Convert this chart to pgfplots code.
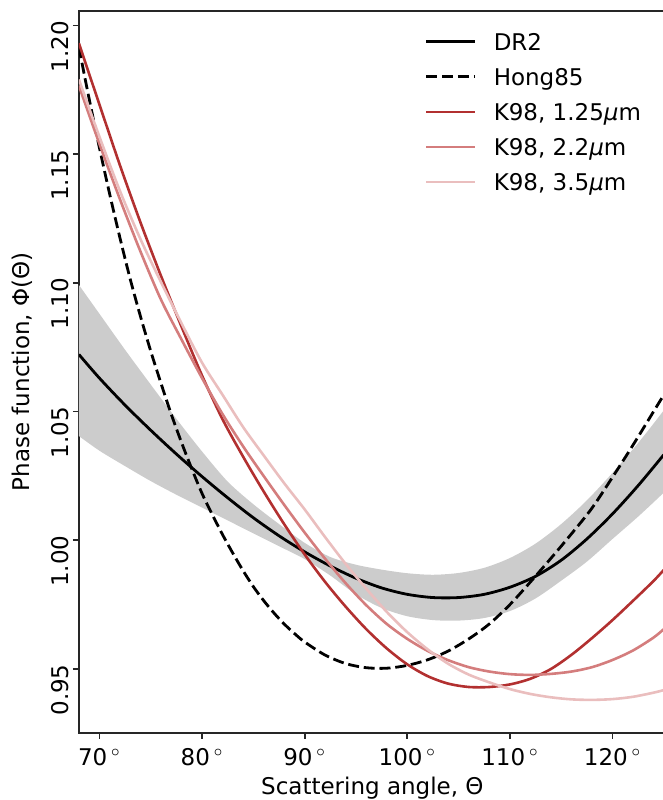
\documentclass[border=0pt]{standalone}
\usepackage{fontspec}
\setmainfont{DejaVu Sans}
\usepackage{pgfplots}
\pgfplotsset{compat=1.18}
\definecolor{kdark}{RGB}{178,48,48}
\definecolor{kmed}{RGB}{212,125,125}
\definecolor{klight}{RGB}{234,190,190}
\definecolor{bandc}{RGB}{204,204,204}
\definecolor{spine}{RGB}{38,38,38}
\begin{document}
\fontsize{11.5pt}{13.8pt}\selectfont
\begin{tikzpicture}
\begin{axis}[
  at={(39.44pt,33.65pt)}, anchor=south west,
  scale only axis, width=293.5pt, height=360.85pt,
  xmin=68, xmax=125.2, ymin=0.92525, ymax=1.2056,
  axis line style={spine, line width=0.9pt},
  tick style={spine, line width=0.9pt},
  tick align=outside, major tick length=3pt,
  tick pos=left,
  xtick={70,80,90,100,110,120},
  xticklabels={70\,$^\circ$,80\,$^\circ$,90\,$^\circ$,100\,$^\circ$,110\,$^\circ$,120\,$^\circ$},
  ytick={0.95,1.00,1.05,1.10,1.15,1.20},
  yticklabels={0.95,1.00,1.05,1.10,1.15,1.20},
  minor tick num=0,
  xticklabel style={inner sep=0pt, anchor=north, yshift=-4.5pt},
  yticklabel style={rotate=90, anchor=south east, inner sep=0pt, xshift=2.5pt, yshift=2pt},
  xlabel={Scattering angle, Θ},
  ylabel={Phase function, Φ(Θ)},
  xlabel style={at={(rel axis cs:0.5,-0.0614)}, anchor=north, inner sep=0pt},
  ylabel style={at={(rel axis cs:-0.079,0.5)}, anchor=south, inner sep=0pt},
  legend style={draw=none, fill=none, at={(0.5896,0.9692)}, anchor=north west,
    inner sep=0pt, outer sep=0pt, row sep=6.6pt, column sep=8.5pt,
    cells={anchor=base west},
    nodes={inner sep=0pt, text height=8.4pt, text depth=2.5pt}},
  legend image code/.code={\draw[#1] (0pt,4.1pt) -- (24.5pt,4.1pt);},
  every axis plot/.append style={line width=1.3pt},
]
\addplot[fill=bandc, draw=none, forget plot, smooth] coordinates {
(68,1.0992)(70,1.0880)(72.5,1.0740)(75,1.0605)(77.5,1.0472)(80,1.0345)(82.5,1.0228)(85,1.0140)(87.5,1.0063)(90,0.9990)(92.5,0.9935)(95,0.9905)(97.5,0.9886)(100,0.9872)(102.5,0.9866)(105,0.9873)(107.5,0.9893)(110,0.9931)(112.5,0.9987)(115,1.0063)(117.5,1.0155)(120,1.0262)(122.5,1.0378)(125,1.0505)(127.5,1.0640)
(127.5,1.0280)(125,1.0185)(122.5,1.0092)(120,1.0005)(117.5,0.9917)(115,0.9843)(112.5,0.9774)(110,0.9725)(107.5,0.9698)(105,0.9688)(102.5,0.9690)(100,0.9705)(97.5,0.9737)(95,0.9790)(92.5,0.9863)(90,0.9927)(87.5,0.9977)(85,1.0027)(82.5,1.0077)(80,1.0127)(77.5,1.0177)(75,1.0230)(72.5,1.0288)(70,1.0348)(68,1.0405)} -- cycle;

\addplot[black, smooth, line width=1.4pt] coordinates {
(68,1.0722)(70,1.0630)(72.5,1.0525)(75,1.04275)(77.5,1.0335)(80,1.02475)(82.5,1.0165)(85,1.00875)(87.5,1.00175)(90,0.9955)(92.5,0.9900)(95,0.98525)(97.5,0.9815)(100,0.9790)(102.5,0.97775)(105,0.97775)(107.5,0.9790)(110,0.98175)(112.5,0.9860)(115,0.99225)(117.5,1.0005)(120,1.01025)(122.5,1.02125)(125,1.03325)};
\addlegendentry{DR2}
\addplot[black, smooth, line width=1.4pt, dash pattern=on 5.5pt off 2.4pt] coordinates {
(68,1.1915)(69,1.1715)(70,1.1525)(71,1.1345)(72,1.1175)(73,1.1015)(74,1.0870)(75,1.0735)(76,1.0610)(77,1.0490)(78,1.0380)(79,1.0278)(80,1.0182)(81,1.0100)(82,1.0022)(83,0.9950)(84,0.9882)(85,0.9820)(86,0.9766)(87,0.9718)(88,0.9675)(89,0.9638)(90,0.9605)(92,0.9554)(94,0.9521)(96,0.9505)(98,0.9503)(100,0.9514)(102,0.9536)(104,0.9570)(106,0.9617)(108,0.9675)(110,0.9750)(112,0.9838)(114,0.9930)(116,1.0025)(118,1.0125)(120,1.0245)(122,1.0370)(124,1.0500)(125,1.0565)};
\addlegendentry{Hong85}
\addplot[kdark, smooth] coordinates {
(68,1.1931)(70,1.1693)(72,1.1457)(74,1.1235)(76,1.1027)(78,1.0830)(80,1.0640)(82,1.0470)(84,1.0325)(86,1.0190)(88,1.0063)(90,0.9945)(92,0.9838)(94,0.9742)(96,0.9655)(98,0.9580)(100,0.9518)(102,0.9472)(104,0.9443)(106,0.9430)(108,0.9430)(110,0.9440)(112,0.9462)(114,0.9500)(116,0.9555)(118,0.9620)(120,0.9690)(122,0.9765)(124,0.9842)(125,0.9885)};
\addlegendentry{K98, 1.25{\itshape μ}m}
\addplot[kmed, smooth] coordinates {
(68,1.1766)(70,1.1540)(72,1.1325)(74,1.1122)(76,1.0935)(78,1.0780)(80,1.0630)(82,1.0490)(84,1.0365)(86,1.0250)(88,1.0138)(90,1.0030)(92,0.9928)(94,0.9833)(96,0.9748)(98,0.9675)(100,0.9617)(102,0.9570)(104,0.9534)(106,0.9507)(108,0.9490)(110,0.9480)(112,0.9477)(114,0.9481)(116,0.9490)(118,0.9507)(120,0.9535)(122,0.9572)(124,0.9622)(125,0.9655)};
\addlegendentry{K98, 2.2{\itshape μ}m}
\addplot[klight, smooth] coordinates {
(68,1.1790)(70,1.1568)(72,1.1357)(74,1.1170)(76,1.1003)(78,1.0843)(80,1.0690)(82,1.0565)(84,1.0440)(86,1.0330)(88,1.0222)(90,1.0120)(92,1.0012)(94,0.9908)(96,0.9812)(98,0.9722)(100,0.9643)(102,0.9576)(104,0.9520)(106,0.9478)(108,0.9448)(110,0.9422)(112,0.9403)(114,0.9390)(116,0.9382)(118,0.9380)(120,0.9383)(122,0.9392)(124,0.9408)(125,0.9418)};
\addlegendentry{K98, 3.5{\itshape μ}m}
\end{axis}
\pgfresetboundingbox
\path[use as bounding box] (0,0) rectangle (331.5pt,400pt);
\end{tikzpicture}
\end{document}
